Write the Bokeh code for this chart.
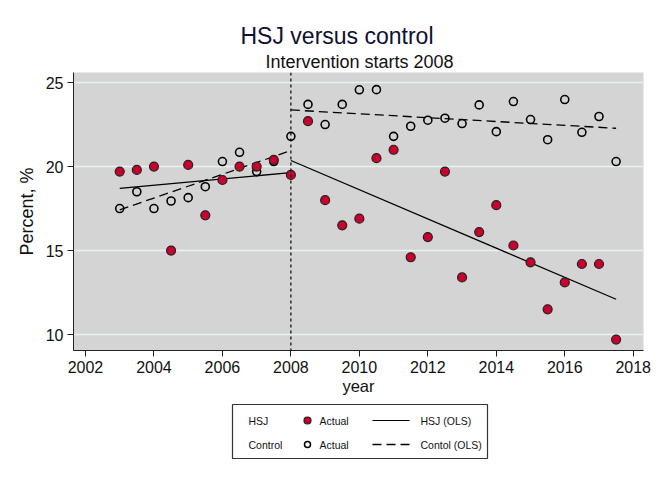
from bokeh.plotting import figure
from bokeh.models import Range1d, FixedTicker, Span, Title
from bokeh.layouts import column
from bokeh.embed import file_html
from bokeh.resources import INLINE
from bokeh.core.properties import value

# ---- data ----
years = [2003, 2003.5, 2004, 2004.5, 2005, 2005.5, 2006, 2006.5, 2007, 2007.5,
         2008, 2008.5, 2009, 2009.5, 2010, 2010.5, 2011, 2011.5, 2012, 2012.5,
         2013, 2013.5, 2014, 2014.5, 2015, 2015.5, 2016, 2016.5, 2017, 2017.5]
hsj_actual = [19.7, 19.8, 20.0, 15.0, 20.1, 17.1, 19.2, 20.0, 20.0, 20.4,
              19.5, 22.7, 18.0, 16.5, 16.9, 20.5, 21.0, 14.6, 15.8, 19.7,
              13.4, 16.1, 17.7, 15.3, 14.3, 11.5, 13.1, 14.2, 14.2, 9.7]
control_actual = [17.5, 18.5, 17.5, 17.95, 18.15, 18.8, 20.3, 20.85, 19.7, 20.3,
                  21.8, 23.7, 22.5, 23.7, 24.57, 24.58, 21.8, 22.4, 22.76, 22.88,
                  22.56, 23.67, 22.08, 23.87, 22.8, 21.6, 23.99, 22.04, 22.98, 20.3]
ols_years_pre = [2003, 2008]
hsj_ols_pre = [18.7, 19.64]
control_ols_pre = [17.42, 20.95]
ols_years_post = [2008, 2017.5]
hsj_ols_post = [20.36, 12.1]
control_ols_post = [23.37, 22.28]
intervention_year = 2008
x_ticks = [2002, 2004, 2006, 2008, 2010, 2012, 2014, 2016, 2018]
y_ticks = [10, 15, 20, 25]

FONT = "Liberation Sans"
RED = "#c8002d"
TXT = "#111111"

p = figure(width=662, height=400, output_backend="svg", toolbar_location=None,
           title=None,
           x_range=Range1d(2001.65, 2018.3), y_range=Range1d(9.05, 25.6),
           min_border_left=73, min_border_right=19, min_border_top=72,
           min_border_bottom=50, frame_align=False)
p.background_fill_color = "#d4d4d4"
p.border_fill_color = "white"
p.outline_line_color = None
p.xgrid.grid_line_color = None
p.ygrid.grid_line_color = "#eaf1f2"
p.ygrid.grid_line_width = 1.5
p.ygrid.ticker = FixedTicker(ticks=y_ticks)

p.xaxis.ticker = FixedTicker(ticks=x_ticks)
p.yaxis.ticker = FixedTicker(ticks=y_ticks)
for ax in (p.xaxis[0], p.yaxis[0]):
    ax.axis_line_color = "#222222"
    ax.major_tick_line_color = "#222222"
    ax.major_tick_out = 6
    ax.major_tick_in = 0
    ax.minor_tick_line_color = None
    ax.major_label_text_font = FONT
    ax.major_label_text_font_size = "16px"
    ax.major_label_text_color = TXT
    ax.axis_label_text_font = FONT
    ax.axis_label_text_font_style = "normal"
    ax.axis_label_text_color = TXT
p.xaxis.axis_label = "year"
p.xaxis.axis_label_text_font_size = "16.5px"
p.xaxis.axis_label_standoff = 1
p.xaxis.major_label_standoff = 4
p.yaxis.axis_label = "Percent, %"
p.yaxis.axis_label_text_font_size = "18px"
p.yaxis.axis_label_standoff = 6
p.yaxis.major_label_standoff = 4
p.yaxis.major_label_orientation = "horizontal"

# titles (first added sits nearest the plot)
p.add_layout(Title(text="Intervention starts 2008", align="left", offset=192,
                   text_font=FONT, text_font_size="18px", text_color=TXT,
                   text_font_style="normal", standoff=2), "above")
p.add_layout(Title(text="HSJ versus control", align="left", offset=167,
                   text_font=FONT, text_font_size="23px", text_color="#101030",
                   text_font_style="normal", standoff=0), "above")

p.add_layout(Span(location=intervention_year, dimension="height",
                  line_color="black", line_dash="3 3", line_width=1.2))

# OLS lines
p.line(ols_years_pre, hsj_ols_pre, line_color="black", line_width=1.3)
p.line(ols_years_post, hsj_ols_post, line_color="black", line_width=1.3)
p.line(ols_years_pre, control_ols_pre, line_color="black", line_width=1.3,
       line_dash="9 5")
p.line(ols_years_post, control_ols_post, line_color="black", line_width=1.3,
       line_dash="9 5")

# actual points
p.scatter(years, control_actual, size=8, fill_color=None, line_color="black",
          line_width=1.6)
p.scatter(years, hsj_actual, size=9, fill_color=RED, line_color="#222222",
          line_width=1.2)

# ---- legend panel ----
lg = figure(width=662, height=83, output_backend="svg", toolbar_location=None,
            x_range=Range1d(0, 255), y_range=Range1d(0, 54),
            min_border_left=232, min_border_right=175, min_border_top=4,
            min_border_bottom=25, frame_align=False)
lg.axis.visible = False
lg.grid.visible = False
lg.outline_line_color = "#333333"
lg.outline_line_width = 1.2
lg.background_fill_color = "white"
lg.border_fill_color = "white"

row_y = [38, 14]
lg.text(x=[16, 16], y=row_y, text=["HSJ", "Control"], text_font=value(FONT),
        text_font_size="10.5px", text_baseline="middle", text_color=TXT)
lg.text(x=[87, 87], y=row_y, text=["Actual", "Actual"], text_font=value(FONT),
        text_font_size="10.5px", text_baseline="middle", text_color=TXT)
lg.text(x=[188, 188], y=row_y, text=["HSJ (OLS)", "Contol (OLS)"],
        text_font=value(FONT), text_font_size="10.5px", text_baseline="middle",
        text_color=TXT)
lg.scatter([75], [row_y[0]], size=7, fill_color=RED, line_color="#222222",
           line_width=1.2)
lg.scatter([75], [row_y[1]], size=6, fill_color=None, line_color="black",
           line_width=1.5)
lg.line([140, 177], [row_y[0], row_y[0]], line_color="black", line_width=1.2)
lg.line([140, 177], [row_y[1], row_y[1]], line_color="black", line_width=1.5,
        line_dash="9 5")

layout = column(p, lg, spacing=0)
open("out.html", "w").write(file_html(layout, INLINE))
